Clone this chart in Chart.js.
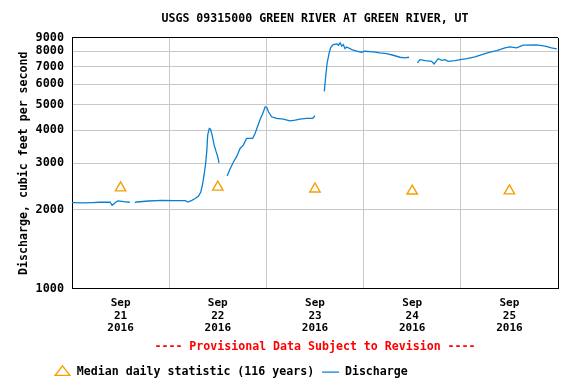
<!DOCTYPE html>
<html lang="en">

<head>
   <meta charset="UTF-8">
   <title>USGS 09315000 Green River at Green River, UT</title>
   <script src="https://cdn.jsdelivr.net/npm/chart.js@4.4.1/dist/chart.umd.min.js"></script>
   <style>
      html, body { margin: 0; padding: 0; background: #fff; }
   </style>
</head>

<body>
   <canvas id="myChart" width="576" height="384"></canvas>
   <script>
      // hours after Sep 21 2016 00:00, null = gap in the record
      const dischargeHours = [
         0, 2.7, 5, 6.9, 9.4, 9.9, 11.1, 11.4, 12.8, 14.3, 15.0,
         15.5, 16.0, 18.9, 22.2, 25.4, 28.0, 28.6, 29.6, 30.4, 31.2, 31.8, 32.2, 32.6, 33.0, 33.3, 33.5,
         33.9, 34.2, 34.6, 35.1, 35.6, 36.0, 36.3, 37.3,
         38.3, 39.0, 39.8, 40.7, 41.5, 42.3, 43.1, 44.6, 45.2, 45.8, 46.4, 47.1, 47.7, 48.1, 48.5,
         49.3, 50.5, 52.2, 53.8, 55.1, 56.3, 57.9, 59.4, 60.0, 61.2,
         62.3, 62.6, 63.0, 63.5, 63.9, 64.5, 65.4, 65.8, 66.2, 66.6, 67.0, 67.4, 67.8, 69.1, 70.3,
         71.5, 72.3, 74.4, 76.0, 77.7, 79.3, 81.0, 82.2, 83.2, 84.2,
         85.3, 85.9, 87.2, 88.8, 89.4, 90.4, 91.3, 92.1, 92.9, 94.6, 95.8, 97.5, 99.5, 101.2, 103.2,
         104.9, 106.9, 108.1, 109.8, 111.4, 114.7, 116.8, 118.4, 119.7
      ];
      const dischargeCfs = [
         2124, 2120, 2124, 2130, 2130, 2074, 2148, 2154, 2140, 2130, null,
         2124, 2135, 2154, 2167, 2160, 2160, 2135, 2167, 2200, 2245, 2331, 2473, 2700, 2992, 3363, 3837,
         4070, 4045, 3837, 3515, 3313, 3171, 3008, null,
         2684, 2846, 3018, 3190, 3414, 3515, 3728, 3728, 3895, 4128, 4378, 4643, 4920, 4894, 4709,
         4507, 4444, 4417, 4351, 4378, 4417, 4444, 4444, 4547, null,
         5633, 6333, 7224, 7889, 8295, 8486, 8538, 8442, 8620, 8368, 8486, 8193, 8316, 8121, 8008,
         7938, 8008, 7959, 7889, 7841, 7731, 7597, 7550, 7597, null,
         7224, 7436, 7371, 7333, 7161, 7502, 7397, 7436, 7333, 7371, 7436, 7502, 7616, 7772, 7938,
         8050, 8244, 8316, 8244, 8442, 8464, 8368, 8244, 8172
      ];

      // median daily statistic, plotted at noon of each day
      const medianHours = [12, 36, 60, 84, 108];
      const medianCfs = [2416, 2432, 2393, 2350, 2354];

      const monthLabel = 'Sep';
      const dayLabels = ['21', '22', '23', '24', '25'];
      const yearLabel = '2016';
      const yTickValues = [1000, 2000, 3000, 4000, 5000, 6000, 7000, 8000, 9000];

      const mono = "'DejaVu Sans Mono', monospace";
      const gridGray = '#c8c8c8';

      // move legend to the left like the original page
      const legendShift = {
         id: 'legendShift',
         afterLayout(chart) {
            chart.legend.left = 46;
            chart.legend.top += 4;
         }
      };

      const config = {
         type: 'line',
         data: {
            datasets: [
               {
                  label: 'Median daily statistic (116 years)',
                  data: medianHours.map((h, i) => ({ x: h, y: medianCfs[i] })),
                  showLine: false,
                  pointStyle: 'triangle',
                  pointRadius: 6,
                  pointBorderWidth: 1.4,
                  borderColor: '#f5a000',
                  backgroundColor: 'rgba(0,0,0,0)',
                  borderWidth: 1.4,
               },
               {
                  label: 'Discharge',
                  data: dischargeHours.map((h, i) => ({ x: h, y: dischargeCfs[i] })),
                  borderColor: '#0a7fd2',
                  backgroundColor: '#0a7fd2',
                  borderWidth: 1.3,
                  pointRadius: 0,
                  pointStyle: 'line',
                  spanGaps: false,
                  tension: 0,
               }
            ]
         },
         options: {
            responsive: false,
            animation: false,
            layout: { padding: { left: 0, right: 18, top: 0, bottom: 0 } },
            plugins: {
               tooltip: { enabled: false },
               title: {
                  display: true,
                  text: 'USGS 09315000 GREEN RIVER AT GREEN RIVER, UT',
                  color: '#000',
                  fullSize: false,
                  font: { family: mono, size: 11.6, weight: 'bold' },
                  padding: { top: 12, bottom: 12 }
               },
               subtitle: {
                  display: true,
                  position: 'bottom',
                  text: '---- Provisional Data Subject to Revision ----',
                  color: '#f00',
                  fullSize: false,
                  font: { family: mono, size: 11.6, weight: 'bold' },
                  padding: { top: 7, bottom: 0 }
               },
               legend: {
                  position: 'bottom',
                  align: 'start',
                  weight: 3000,
                  labels: {
                     usePointStyle: true,
                     pointStyleWidth: 17,
                     boxHeight: 9,
                     color: '#000',
                     padding: 8,
                     font: { family: mono, size: 11.6, weight: 'bold' }
                  }
               }
            },
            scales: {
               x: {
                  type: 'linear',
                  min: 0,
                  max: 120,
                  afterBuildTicks: (scale) => {
                     const t = [];
                     for (let h = 0; h <= 120; h += 12) t.push({ value: h });
                     scale.ticks = t;
                  },
                  afterFit: (scale) => { scale.height = 45; },
                  ticks: {
                     autoSkip: false,
                     maxRotation: 0,
                     padding: 9,
                     color: '#000',
                     font: { family: mono, size: 11, weight: 'bold', lineHeight: 1.12 },
                     callback: (value) => {
                        if (value % 24 !== 12) return '';
                        return [monthLabel, dayLabels[Math.floor(value / 24)], yearLabel];
                     }
                  },
                  grid: {
                     drawTicks: false,
                     color: (ctx) => {
                        const v = ctx.tick.value;
                        if (v === 120) return '#000';
                        return v % 24 === 0 ? gridGray : 'rgba(0,0,0,0)';
                     }
                  },
                  border: { color: '#000', width: 1 }
               },
               y: {
                  type: 'logarithmic',
                  min: 1000,
                  max: 9000,
                  afterBuildTicks: (scale) => {
                     scale.ticks = yTickValues.map(v => ({ value: v }));
                  },
                  afterFit: (scale) => { scale.width = 72; },
                  ticks: {
                     autoSkip: false,
                     padding: 8,
                     color: '#000',
                     font: { family: mono, size: 11.8, weight: 'bold' },
                     callback: (value) => String(value)
                  },
                  grid: {
                     drawTicks: false,
                     color: (ctx) => ctx.tick.value === 9000 ? '#000' : gridGray
                  },
                  border: { color: '#000', width: 1 },
                  title: {
                     display: true,
                     text: 'Discharge, cubic feet per second',
                     color: '#000',
                     font: { family: mono, size: 11.6, weight: 'bold' },
                     padding: { top: 17, bottom: 5 }
                  }
               }
            }
         },
         plugins: [legendShift]
      };

      const chart = new Chart(document.getElementById('myChart').getContext('2d'), config);
   </script>
</body>

</html>
